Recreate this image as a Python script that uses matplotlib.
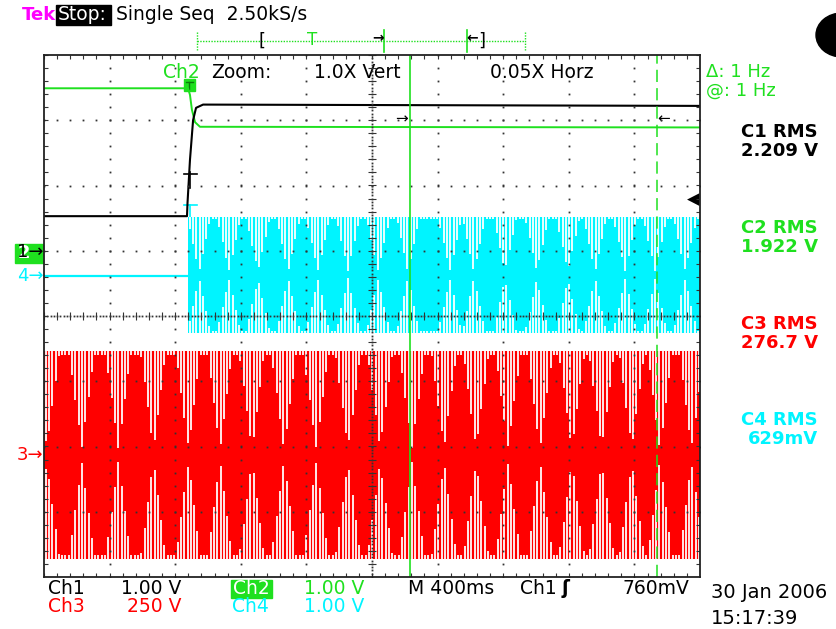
import numpy as np
import matplotlib
matplotlib.use("Agg")
import matplotlib.pyplot as plt
from matplotlib.patches import Rectangle, Ellipse

W, H = 837, 629

# ---------------- data (time in s from left edge, 400 ms/div; level in divisions) ----------------
ch1_t = [0.0, 0.872, 0.875, 0.890, 0.909, 0.927, 0.970, 4.0]
ch1_div = [1.53, 1.53, 1.73, 2.39, 3.00, 3.19, 3.24, 3.22]
ch2_t = [0.0, 0.878, 0.890, 0.902, 0.921, 0.951, 4.0]
ch2_div = [3.49, 3.49, 3.39, 3.16, 2.97, 2.90, 2.89]
ch4_t = [0.0, 0.872]
ch4_div = [0.61, 0.61]
ch4_band_t = [0.878, 4.0]
ch4_center = 0.63
ch4_amp = 0.89
ch3_band_t = [0.0, 4.0]
ch3_center = -2.13
ch3_amp = 1.59
ch3_pinch_t = [0.016, 0.230, 0.453, 0.667, 0.880, 1.073, 1.268, 1.463, 1.659, 1.854,
               2.049, 2.244, 2.439, 2.634, 2.829, 3.024, 3.218, 3.401, 3.584, 3.756, 3.949]
ch4_pinch_t = [0.945, 1.128, 1.305, 1.488, 1.671, 1.854, 2.037, 2.220, 2.476, 2.622,
               2.811, 3.006, 3.195, 3.360, 3.543, 3.726, 3.909]
cursor_t = [2.232, 3.738]
rms_labels = ["C1 RMS", "C2 RMS", "C3 RMS", "C4 RMS"]
rms_values = ["2.209 V", "1.922 V", "276.7 V", "629mV"]

BLACK = "#000000"
GREEN = "#1fe01f"
RED = "#ff0000"
CYAN = "#00f4ff"
MAG = "#ff00ff"

plt.rcParams["font.family"] = ["DejaVu Sans"]

fig = plt.figure(figsize=(W / 100, H / 100), dpi=100)
fig.patch.set_facecolor("white")
ov = fig.add_axes([0, 0, 1, 1])
ov.set_xlim(0, W)
ov.set_ylim(H, 0)
ov.axis("off")

ax = fig.add_axes([44 / W, 1 - 577 / H, 656 / W, 522 / H])
ax.set_xlim(0, 4)
ax.set_ylim(-4, 4)
ax.patch.set_alpha(0)
ax.set_xticks([])
ax.set_yticks([])
for s in ax.spines.values():
    s.set_linewidth(1.3)
    s.set_color("#222222")
    s.set_zorder(20)

PX = 164.0  # px per second
DV = 65.25  # px per division


def band(t0, t1, center, amp, pinches, half, color, scolor):
    ax.fill_between([t0, t1], center - amp, center + amp, color=color, lw=0, zorder=2)
    step = 3.3 / PX
    cols = np.arange(t0 + step / 2, t1, step)
    p = np.asarray(pinches)
    d = np.min(np.abs(cols[:, None] - p[None, :]), axis=1)
    frac = np.clip(1 - d / half, 0, 1)
    L = amp * (0.04 + 0.9 * frac)
    ax.vlines(cols, center + amp - L, center + amp, colors=scolor, lw=1.35,
              zorder=3, antialiased=False)
    ax.vlines(cols, center - amp, center - amp + L, colors=scolor, lw=1.35,
              zorder=3, antialiased=False)


band(ch3_band_t[0], ch3_band_t[1], ch3_center, ch3_amp, ch3_pinch_t, 0.075, RED, "#ffe2e2")
band(ch4_band_t[0], ch4_band_t[1], ch4_center, ch4_amp, ch4_pinch_t, 0.07, CYAN, "#e2ffff")
ax.plot(ch4_t, ch4_div, color=CYAN, lw=1.6, zorder=4)
ax.plot(ch2_t, ch2_div, color=GREEN, lw=1.4, zorder=5)
ax.plot(ch1_t, ch1_div, color=BLACK, lw=1.5, zorder=6)

# ---------------- graticule ----------------
dot = dict(ls="none", marker="s", ms=1.3, mec="none", mfc="#333333", zorder=10)
ys = np.arange(-4, 4.001, 0.2)
ts = np.arange(0, 4.001, 0.08)
for k in range(1, 10):
    if k == 5:
        continue
    ax.plot(np.full(ys.size, 0.4 * k), ys, **dot)
for j in range(-3, 4):
    if j == 0:
        continue
    ax.plot(ts, np.full(ts.size, j), **dot)
ys2 = np.arange(-4, 4.001, 0.05)
ts2 = np.arange(0, 4.001, 0.02)
ax.plot(np.full(ys2.size, 2.0), ys2, **dot)
ax.plot(ts2, np.zeros(ts2.size), **dot)
tk = 4.0 / DV
tkt = 4.0 / PX
ax.vlines(ts, -tk, tk, colors="#333333", lw=0.8, zorder=10)
ax.hlines(ys, 2.0 - tkt, 2.0 + tkt, colors="#333333", lw=0.8, zorder=10)
ax.vlines(ts, 4 - tk, 4, colors="#333333", lw=0.8, zorder=10)
ax.vlines(ts, -4, -4 + tk, colors="#333333", lw=0.8, zorder=10)
ax.hlines(ys, 0, tkt, colors="#333333", lw=0.8, zorder=10)
ax.hlines(ys, 4 - tkt, 4, colors="#333333", lw=0.8, zorder=10)

ax.axvline(cursor_t[0], color=GREEN, lw=1.2, zorder=12)
ax.axvline(cursor_t[1], color=GREEN, lw=1.1, ls=(0, (8, 4)), zorder=12)

# ---------------- annotations (pixel coordinates) ----------------
fs = 13.5
ov.text(22, 15, "Tek", color=MAG, fontsize=13, fontweight="bold", va="center", ha="left")
ov.add_patch(Rectangle((56, 5), 55, 20, color="black", zorder=3))
ov.text(58, 15, "Stop:", color="white", fontsize=fs, va="center", ha="left", zorder=4)
ov.text(116, 15, "Single Seq  2.50kS/s", color="black", fontsize=fs, va="center", ha="left")
ov.add_patch(Ellipse((842, 35), 52, 44, color="black"))

ov.plot([197, 525], [41, 41], color=GREEN, lw=1.0, ls=(0, (1, 1)))
for xx in (197, 525):
    ov.plot([xx, xx], [32, 50], color=GREEN, lw=1.0, ls=(0, (1, 1)))
ov.text(262, 41, "[", color="black", fontsize=13, va="center", ha="center")
ov.text(482, 41, "]", color="black", fontsize=13, va="center", ha="center")
ov.text(312, 40, "T", color=GREEN, fontsize=12, va="center", ha="center")
ov.plot([384, 384], [30, 52], color=GREEN, lw=1.2)
ov.plot([467, 467], [30, 52], color=GREEN, lw=1.2)
ov.text(378, 38, "→", color="black", fontsize=10, va="center", ha="center", fontweight="bold")
ov.text(472, 38, "←", color="black", fontsize=10, va="center", ha="center", fontweight="bold")

ov.text(163, 72, "Ch2", color=GREEN, fontsize=fs, va="center", ha="left", zorder=30)
ov.text(211, 72, "Zoom:", color="black", fontsize=fs, va="center", ha="left", zorder=30)
ov.text(314, 72, "1.0X Vert", color="black", fontsize=fs, va="center", ha="left", zorder=30)
ov.text(490, 72, "0.05X Horz", color="black", fontsize=fs, va="center", ha="left", zorder=30)

ov.add_patch(Rectangle((184, 79), 11, 12, color=GREEN, zorder=30))
ov.plot([186, 193], [82, 82], color="#0a7a0a", lw=1.0, zorder=31)
ov.plot([189.5, 189.5], [82, 89], color="#0a7a0a", lw=1.0, zorder=31)
ov.plot([184, 197], [174, 174], color="black", lw=1.2, zorder=30)
ov.plot([190, 190], [172, 188], color="black", lw=1.2, zorder=30)
ov.plot([184, 197], [205, 205], color=CYAN, lw=1.2, zorder=30)
ov.plot([190, 190], [205, 217], color=CYAN, lw=1.2, zorder=30)
ov.text(402, 119, "→", color="black", fontsize=11, va="center", ha="center", zorder=30)
ov.text(664, 119, "←", color="black", fontsize=11, va="center", ha="center", zorder=30)
ov.text(693, 200, "◀", color="black", fontsize=12, va="center", ha="center", zorder=30)

ov.add_patch(Rectangle((15, 244), 28, 19, color=GREEN, zorder=5))
ov.text(18, 253, "2", color="white", fontsize=13, fontweight="bold", va="center", ha="left", zorder=6)
ov.text(17, 252, "1→", color="black", fontsize=13, va="center", ha="left", zorder=7)
ov.text(17, 276, "4→", color=CYAN, fontsize=13, va="center", ha="left")
ov.text(17, 455, "3→", color=RED, fontsize=13, va="center", ha="left")

ov.text(706, 72, "Δ: 1 Hz", color=GREEN, fontsize=13, va="center", ha="left")
ov.text(706, 91, "@: 1 Hz", color=GREEN, fontsize=13, va="center", ha="left")
rcols = [BLACK, GREEN, RED, CYAN]
ry = [132, 228, 324, 420]
for lab, val, c, y in zip(rms_labels, rms_values, rcols, ry):
    ov.text(818, y, lab, color=c, fontsize=13, fontweight="bold", va="center", ha="right")
    ov.text(818, y + 19, val, color=c, fontsize=13, fontweight="bold", va="center", ha="right")

ov.text(48, 589, "Ch1", color="black", fontsize=fs, va="center", ha="left")
ov.text(121, 589, "1.00 V", color="black", fontsize=fs, va="center", ha="left")
ov.add_patch(Rectangle((231, 580), 41, 18, color=GREEN))
ov.text(233, 589, "Ch2", color="white", fontsize=fs, va="center", ha="left")
ov.text(304, 589, "1.00 V", color=GREEN, fontsize=fs, va="center", ha="left")
ov.text(408, 589, "M 400ms", color="black", fontsize=fs, va="center", ha="left")
ov.text(520, 589, "Ch1", color="black", fontsize=fs, va="center", ha="left")
ov.text(566, 589, "ʃ", color="black", fontsize=fs, fontweight="bold", va="center", ha="center")
ov.text(623, 589, "760mV", color="black", fontsize=fs, va="center", ha="left")
ov.text(711, 593, "30 Jan 2006", color="black", fontsize=14, va="center", ha="left")
ov.text(48, 607, "Ch3", color=RED, fontsize=fs, va="center", ha="left")
ov.text(127, 607, "250 V", color=RED, fontsize=fs, va="center", ha="left")
ov.text(232, 607, "Ch4", color=CYAN, fontsize=fs, va="center", ha="left")
ov.text(304, 607, "1.00 V", color=CYAN, fontsize=fs, va="center", ha="left")
ov.text(711, 619, "15:17:39", color="black", fontsize=14, va="center", ha="left")

fig.savefig("out.png", dpi=100, facecolor="white")
